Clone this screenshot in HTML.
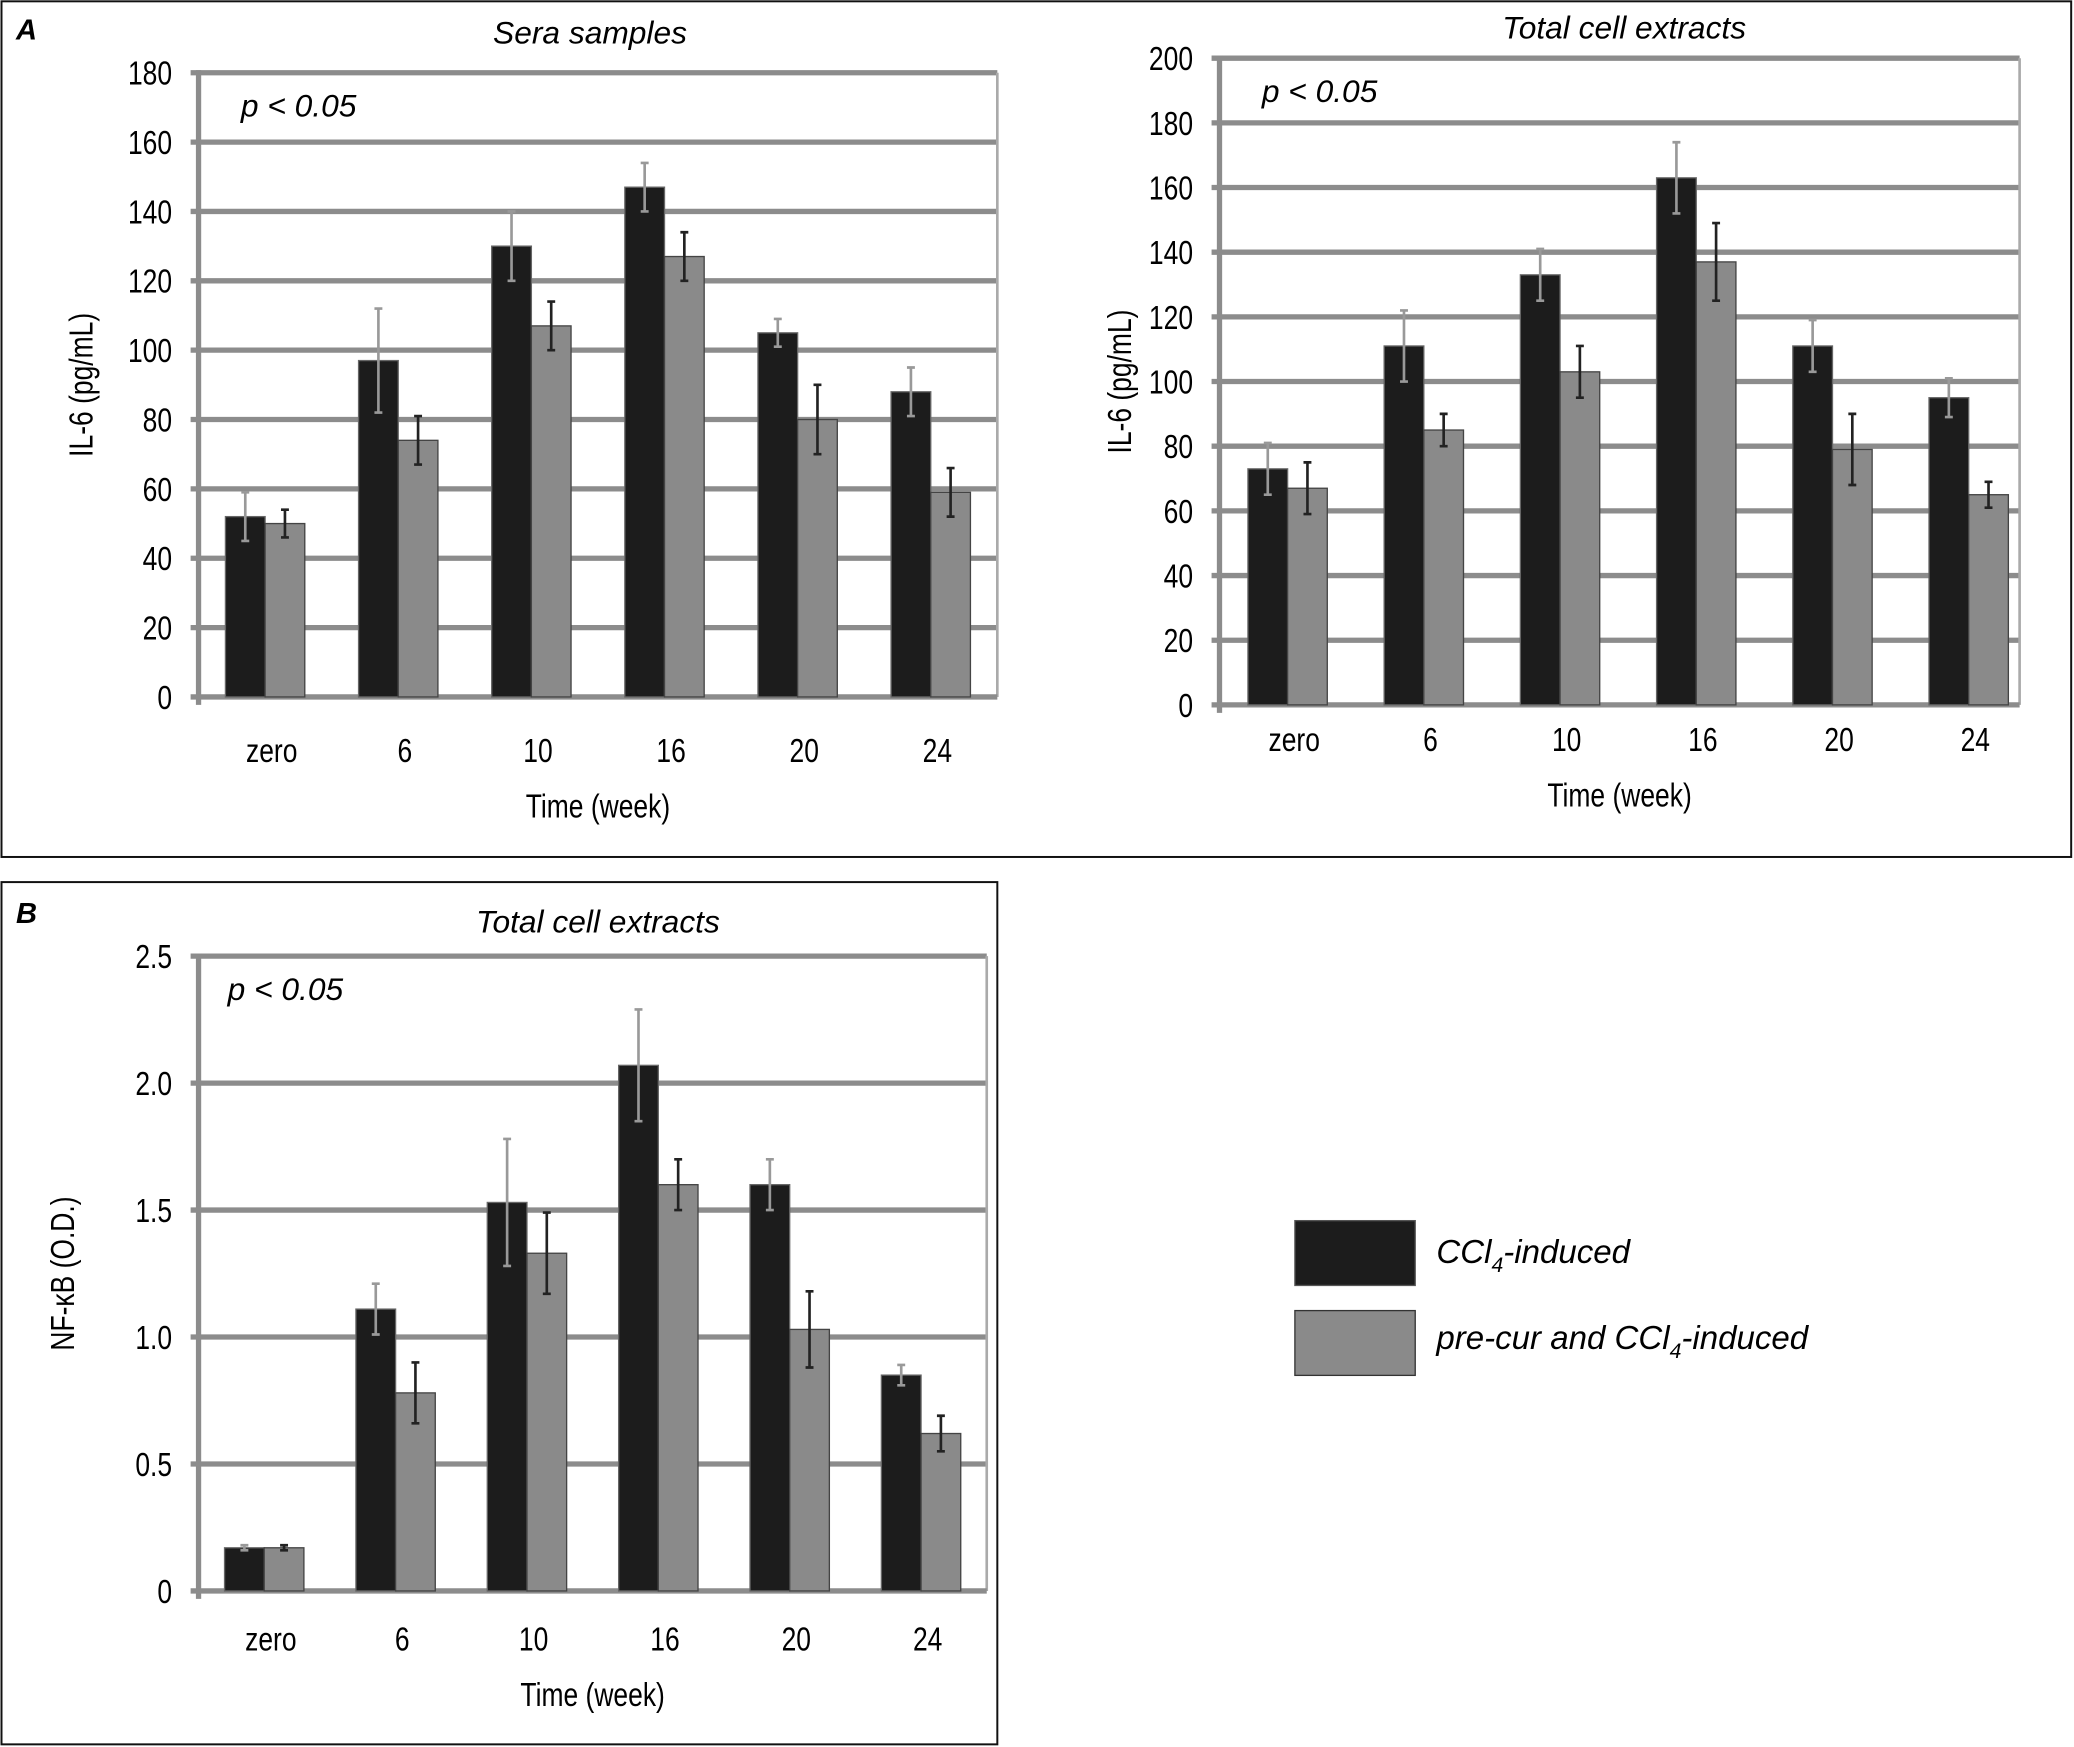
<!DOCTYPE html>
<html><head><meta charset="utf-8"><style>
html,body{margin:0;padding:0;background:#fff}
svg{display:block}
text{font-family:"Liberation Sans",sans-serif}
</style></head><body>
<svg id="s" width="2074" height="1747" viewBox="0 0 1568 1321" xmlns="http://www.w3.org/2000/svg">
<rect x="1" y="1" width="1565" height="647" fill="none" stroke="#111" stroke-width="1.5"/>
<rect x="1" y="667" width="753" height="652" fill="none" stroke="#111" stroke-width="1.5"/>
<text x="12" y="30" font-size="22" font-weight="bold" font-style="italic">A</text>
<text x="12" y="698" font-size="22" font-weight="bold" font-style="italic">B</text>
<g>
<rect x="979" y="923" width="91" height="49" fill="#1c1c1c" stroke="#555"/>
<rect x="979" y="991" width="91" height="49" fill="#8a8a8a" stroke="#333"/>
<text x="1086" y="955" font-size="25" font-style="italic">CCl<tspan font-size="16" dy="7">4</tspan><tspan dy="-7">-induced</tspan></text>
<text x="1086" y="1020" font-size="25" font-style="italic">pre-cur and CCl<tspan font-size="16" dy="7">4</tspan><tspan dy="-7">-induced</tspan></text>
</g>
</svg>
<script>
const categories = ["zero","6","10","16","20","24"];
const seraDark = [52,97,130,147,105,88];
const seraDarkErr = [7,15,10,7,4,7];
const seraGray = [50,74,107,127,80,59];
const seraGrayErr = [4,7,7,7,10,7];
const seraTicks = [0,20,40,60,80,100,120,140,160,180];
const cellDark = [73,111,133,163,111,95];
const cellDarkErr = [8,11,8,11,8,6];
const cellGray = [67,85,103,137,79,65];
const cellGrayErr = [8,5,8,12,11,4];
const cellTicks = [0,20,40,60,80,100,120,140,160,180,200];
const nfDark = [0.17,1.11,1.53,2.07,1.6,0.85];
const nfDarkErr = [0.01,0.1,0.25,0.22,0.1,0.04];
const nfGray = [0.17,0.78,1.33,1.6,1.03,0.62];
const nfGrayErr = [0.01,0.12,0.16,0.1,0.15,0.07];
const nfTicks = [0,0.5,1.0,1.5,2.0,2.5];
const nfTickLabels = ["0","0.5","1.0","1.5","2.0","2.5"];

const NS="http://www.w3.org/2000/svg";
const svg=document.getElementById('s');
function mk(tag,attrs,parent,txt){const e=document.createElementNS(NS,tag);for(const k in attrs)e.setAttribute(k,attrs[k]);if(txt!==undefined)e.textContent=txt;(parent||svg).appendChild(e);return e;}

function chart(o){
  const g=mk('g',{});
  
  
  const max=o.ticks[o.ticks.length-1];
  const y=v=>o.y0-(v/max)*(o.y0-o.y1);
  const step=(o.x1-o.x0)/categories.length;
  const cx=i=>o.x0+step*(i+0.5);
  const rb=o.rb||o.x1;
  o.ticks.forEach((t,i)=>{
    if(i>0){const l=mk('line',{x1:o.x0-6,x2:rb,y1:y(t),y2:y(t),stroke:'#8c8c8c','stroke-width':4},g);
    
    }
    const tx=mk('text',{x:o.x0-20,y:y(t)+9,'font-size':25,'text-anchor':'end',transform:`translate(${o.x0-20},0) scale(0.8,1) translate(${-(o.x0-20)},0)`},g,o.labels?o.labels[i]:String(t));
    
    
  });
  const r=mk('line',{x1:rb,x2:rb,y1:o.y1,y2:o.y0,stroke:'#aaa','stroke-width':2},g);
  
  
  const a=mk('line',{x1:o.x0,x2:o.x0,y1:o.y1-2,y2:o.y0+6,stroke:'#8c8c8c','stroke-width':4},g);
  
  
  const xa=mk('line',{x1:o.x0-6,x2:rb,y1:o.y0,y2:o.y0,stroke:'#8c8c8c','stroke-width':4},g);
  
  
  const bw=30;
  categories.forEach((c,i)=>{
    [[o.dark,o.darkErr,'#1c1c1c',-bw],[o.gray,o.grayErr,'#8a8a8a',0]].forEach(([vals,errs,col,off],k)=>{
      const v=vals[i],e=errs[i];
      const b=mk('rect',{x:cx(i)+off,y:y(v),width:bw,height:o.y0-y(v),fill:col,stroke:k?'#444':'#666','stroke-width':1},g);
      
      
      const mx=cx(i)+off+bw/2;
      const eb=mk('path',{d:`M${mx},${y(v+e)}V${y(v-e)}M${mx-3},${y(v+e)}H${mx+3}M${mx-3},${y(v-e)}H${mx+3}`,stroke:k?'#222':'#999','stroke-width':2,fill:'none'},g);
      
      
    });
    const t=mk('text',{x:0,y:0,'font-size':25,'text-anchor':'middle',transform:`translate(${cx(i)+5},${o.y0+o.tl}) scale(0.8,1)`},g,c);
    
    
  });
  const xt=mk('text',{x:0,y:0,'font-size':25,'text-anchor':'middle',transform:`translate(${(o.x0+rb)/2},${o.y0+o.tl+42}) scale(0.8,1)`},g,'Time (week)');
  
  
  const yt=mk('text',{x:0,y:0,'font-size':25,'text-anchor':'middle',transform:`translate(${o.ytx},${(o.y0+o.y1)/2}) rotate(-90) scale(0.8,1)`},g,o.ytitle);
  
  
  const ti=mk('text',{x:o.titleX,y:o.titleY,'font-size':24,'font-style':'italic','text-anchor':'middle','font-family':'DejaVu Sans, sans-serif'},g,o.title);
  
  
  const p=mk('text',{x:o.x0+(o.pdx||32),y:o.y1+33,'font-size':24,'font-style':'italic','font-family':'DejaVu Sans, sans-serif'},g,'p < 0.05');
  
  
}
chart({name:'chart-sera-il6',x0:150,x1:754,y0:527,y1:55,tl:49,ticks:seraTicks,dark:seraDark,darkErr:seraDarkErr,gray:seraGray,grayErr:seraGrayErr,ytitle:'IL-6  (pg/mL)',ytx:70,title:'Sera samples',titleX:446,titleY:33});
chart({name:'chart-cell-il6',x0:922,x1:1540,rb:1527,y0:533,y1:44,tl:35,ticks:cellTicks,dark:cellDark,darkErr:cellDarkErr,gray:cellGray,grayErr:cellGrayErr,ytitle:'IL-6  (pg/mL)',ytx:855,title:'Total cell extracts',titleX:1228,titleY:29});
chart({name:'chart-cell-nfkb',x0:150,x1:746,y0:1203,y1:723,tl:45,ticks:nfTicks,labels:nfTickLabels,dark:nfDark,darkErr:nfDarkErr,gray:nfGray,grayErr:nfGrayErr,ytitle:'NF-\u03BAB (O.D.)',ytx:56,title:'Total cell extracts',titleX:452,titleY:705,pdx:22});
</script>
</body></html>
